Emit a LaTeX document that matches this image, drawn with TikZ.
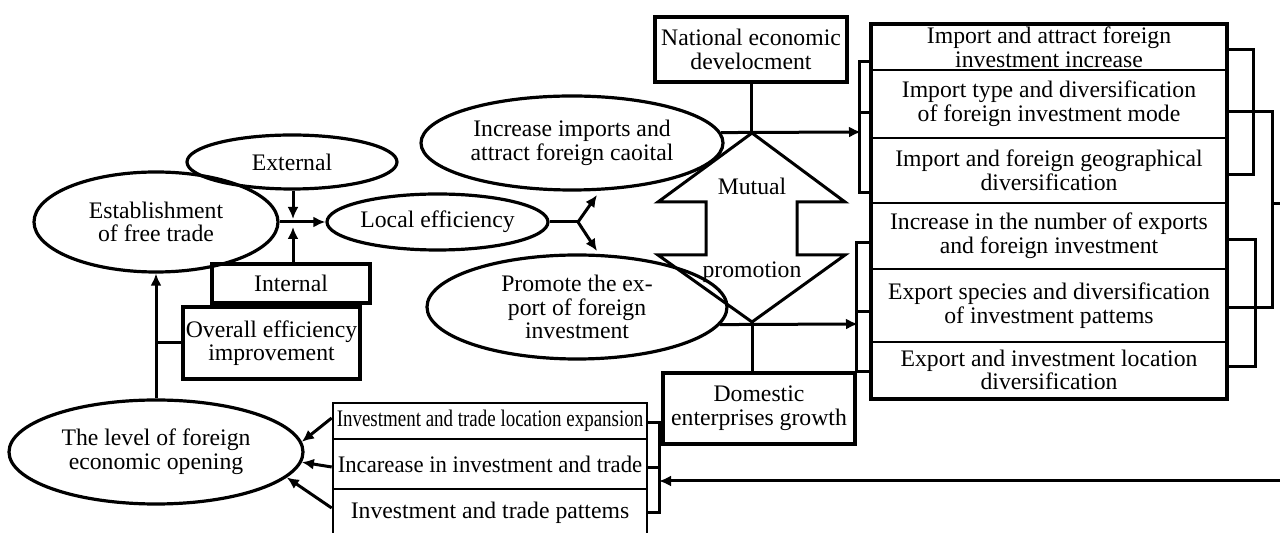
\documentclass[tikz,border=0pt]{standalone}
\usepackage{fontspec}
\setmainfont{Liberation Serif}
\usetikzlibrary{shapes.geometric,arrows.meta,calc}
\begin{document}
\begin{tikzpicture}[x=0.5pt,y=-0.5pt,
 every node/.style={font=\fontsize{11.85}{11.8}\selectfont},
 ell/.style={ellipse,draw,line width=1.6pt,inner sep=0pt,align=center},
 box/.style={rectangle,draw,line width=1.6pt,inner sep=0pt,align=center},
 row/.style={rectangle,draw,line width=1.3pt,inner sep=0pt,align=center,minimum width=177pt},
 brow/.style={rectangle,draw,line width=1.3pt,inner sep=0pt,align=center,minimum width=157pt},
 con/.style={line width=1.5pt},
 arr/.style={line width=1.5pt,-{Latex[length=6pt,width=5.5pt]}},
]
\useasboundingbox (0,0) rectangle (1280,533);
\clip (0,0) rectangle (1280,533);

% ellipses and boxes
\node[ell,minimum width=122pt,minimum height=50pt] (est) at (156,222) {Establishment\\of free trade};
\node[ell,minimum width=105pt,minimum height=27pt] (ext) at (292,162) {External};
\node[box,minimum width=79pt,minimum height=19.5pt] (int) at (291,283.5) {Internal};
\node[box,minimum width=88.5pt,minimum height=36pt] (ovr) at (271.5,343) {Overall efficiency\\improvement};
\node[ell,minimum width=110.5pt,minimum height=28pt] (loc) at (437.5,222) {Local efficiency};
\node[ell,minimum width=151pt,minimum height=47pt] (incr) at (572,143) {Increase imports and\\attract foreign caoital};
\node[ell,minimum width=150pt,minimum height=52pt] (prom) at (577,307) {Promote the ex-\\port of foreign\\investment};
\node[ell,minimum width=147pt,minimum height=52pt] (lev) at (156,452) {The level of foreign\\economic opening};
\node[box,minimum width=96pt,minimum height=32.5pt] (ned) at (751,49.5) {National economic\\develocment};
\node[box,minimum width=96pt,minimum height=35.5pt] (dom) at (759,408.5) {Domestic\\enterprises growth};

% right stack
\node[row,minimum height=22.5pt] (r1) at (1049,47.5) {Import and attract foreign\\investment increase};
\node[row,minimum height=34pt] (r2) at (1049,104) {Import type and diversification\\of foreign investment mode};
\node[row,minimum height=32.5pt] (r3) at (1049,170.5) {Import and foreign geographical\\diversification};
\node[row,minimum height=33pt] (r4) at (1049,236) {Increase in the number of exports\\and foreign investment};
\node[row,minimum height=36.5pt] (r5) at (1049,305.5) {Export species and diversification\\of investment pattems};
\node[row,minimum height=28pt] (r6) at (1049,370) {Export and investment location\\diversification};
\draw[line width=1.9pt] (r1.north west) rectangle (r6.south east);

% bottom stack
\node[brow,minimum height=18pt] (b1) at (490,421) {\scalebox{0.8}[1]{Investment and trade location expansion}};
\node[brow,minimum height=25pt] (b2) at (490,464) {\scalebox{0.96}[1]{Incarease in investment and trade}};
\node[brow,minimum height=23.5pt] (b3) at (490,512.5) {Investment and trade pattems};

% mutual promotion double arrow
\coordinate (mt) at (752,133);
\coordinate (mb) at (752,322);
\draw[line width=1.5pt] (mt) -- (845,202) -- (797,202) -- (797,255) -- (845,255) -- (mb)
  -- (658,255) -- (706,255) -- (706,202) -- (658,202) -- cycle;
\node (mu1) at (752,186) {Mutual};
\node (mu2) at (752,272) {promotion};

% left connectors
\coordinate (jn) at (293,222);
\draw[arr] (est.east) -- (loc.west);
\draw[arr] (ext.south -| jn) -- ($(jn)+(0,-3)$);
\draw[arr] (int.north -| jn) -- ($(jn)+(0,5)$);
\coordinate (br) at (578,222);
\coordinate (bu) at (597,195);
\coordinate (bd) at (597,251);
\draw[con] (loc.east) -- (br);
\draw[arr] (br) -- (bu);
\draw[arr] (br) -- (bd);
\draw[arr] (lev.north) -- (est.south);
\draw[con] (ovr.west) -- (ovr.west -| lev.north);

% middle connectors
\coordinate (ta) at (861,132);
\coordinate (tb) at (858,324);
\draw[arr] (incr.4) -- (ta);
\draw[con] (ned.south) -- (ned.south |- ta);
\draw[arr] (prom.-7) -- (tb);
\draw[con] (mb) -- (mb |- dom.north);

% brackets left of right stack
\draw[con] (r1.west |- 0,62) -- ++(-11,0) |- (r3.west |- 0,193);
\draw[con] (r2.west |- 0,113) -- ++(-11,0);
\draw[con] (r4.west |- 0,243) -- ++(-14,0) |- (r6.west |- 0,372);
\draw[con] (r5.west |- 0,312) -- ++(-14,0);

% brackets right of right stack
\draw[con] (r1.east |- 0,50) -- ++(26,0) |- (r3.east |- 0,175);
\draw[con] (r2.east |- 0,112) -- ++(45,0) |- (r5.east |- 0,308);
\draw[con] (r4.east |- 0,240) -- ++(28,0) |- (r6.east |- 0,367);
\coordinate (rb) at (1271,204);
\coordinate (ro) at (1282,204);
\draw[con] (rb) -- (ro);

% return arrow and bottom bracket
\coordinate (rin) at (1282,481);
\coordinate (bin) at (659,481);
\draw[arr] (rin) -- (bin);
\draw[con] (b1.east |- 0,423) -- ++(11,0) |- (b3.east |- 0,513);
\draw[con] (b2.east |- 0,468) -- ++(11,0);

% arrows into the level ellipse
\draw[arr] (b1.west |- 0,418) -- (lev.4);
\draw[arr] (b2.west |- 0,467) -- (lev.-4);
\draw[arr] (b3.west |- 0,508) -- (lev.-11);
\end{tikzpicture}
\end{document}
